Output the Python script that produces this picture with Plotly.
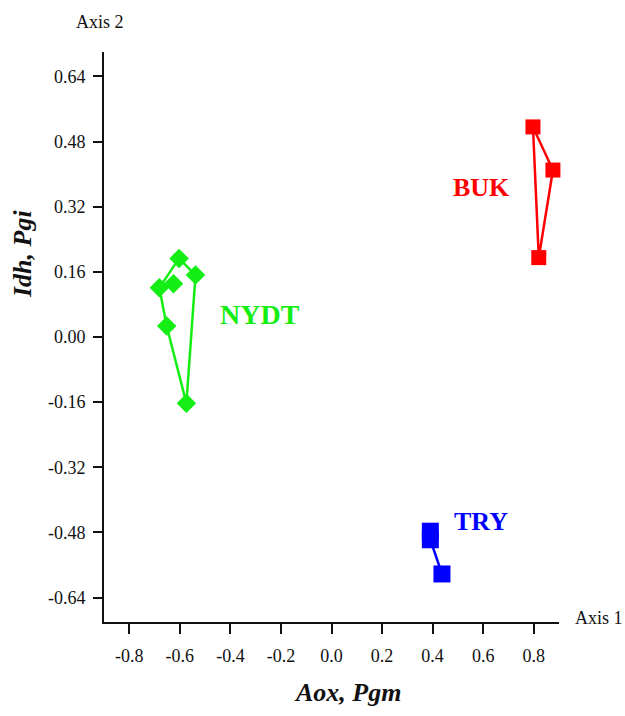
import plotly.graph_objects as go

# ---- data ----
nydt_x = [-0.603, -0.538, -0.574, -0.652, -0.681, -0.625]
nydt_y = [0.193, 0.152, -0.163, 0.027, 0.121, 0.131]
nydt_hull = [0, 1, 2, 3, 4, 0]

buk_x = [0.797, 0.876, 0.820]
buk_y = [0.516, 0.410, 0.195]
buk_hull = [0, 1, 2, 0]

try_x = [0.391, 0.391, 0.437]
try_y = [-0.477, -0.498, -0.582]
try_path = [0, 1, 2]

x_ticks = [-0.8, -0.6, -0.4, -0.2, 0.0, 0.2, 0.4, 0.6, 0.8]
x_tick_text = ["-0.8", "-0.6", "-0.4", "-0.2", "0.0", "0.2", "0.4", "0.6", "0.8"]
y_ticks = [-0.64, -0.48, -0.32, -0.16, 0.0, 0.16, 0.32, 0.48, 0.64]
y_tick_text = ["-0.64", "-0.48", "-0.32", "-0.16", "0.00", "0.16", "0.32", "0.48", "0.64"]

group_names = ["NYDT", "BUK", "TRY"]
group_label_pos = [(-0.450, 0.055, "left"), (0.713, 0.366, "right"), (0.475, -0.452, "left")]
group_label_size = [28, 26, 26]

GREEN = "#14ee14"
RED = "#ff0000"
BLUE = "#0000ff"
SERIF = "Liberation Serif, Times New Roman, serif"

fig = go.Figure()

def add_group(xs, ys, path, color, symbol, size):
    fig.add_trace(go.Scatter(
        x=[xs[i] for i in path], y=[ys[i] for i in path],
        mode="lines", line=dict(color=color, width=2.5),
        hoverinfo="skip", showlegend=False, cliponaxis=False))
    fig.add_trace(go.Scatter(
        x=xs, y=ys, mode="markers",
        marker=dict(color=color, symbol=symbol, size=size, line=dict(width=0)),
        showlegend=False, cliponaxis=False))

add_group(nydt_x, nydt_y, nydt_hull, GREEN, "diamond", 15)
add_group(buk_x, buk_y, buk_hull, RED, "square", 15)
add_group(try_x, try_y, try_path, BLUE, "square", 17)

colors = [GREEN, RED, BLUE]
for name, (lx, ly, anchor), c, fs in zip(group_names, group_label_pos, colors, group_label_size):
    fig.add_annotation(x=lx, y=ly, text="<b>%s</b>" % name, showarrow=False,
                       xanchor=anchor, yanchor="middle",
                       font=dict(family=SERIF, size=fs, color=c))

W, H = 625, 716
L, R, T, B = 104, 66, 52, 94

def px_to_paper(px, py):
    return (px - L) / (W - L - R), 1 - (py - T) / (H - T - B)

ax2 = px_to_paper(99.5, 22)
ax1 = px_to_paper(599, 618)
xt = px_to_paper(347, 692)
yt = px_to_paper(22, 254)

fig.add_annotation(x=ax2[0], y=ax2[1], xref="paper", yref="paper", text="Axis 2",
                   showarrow=False, xanchor="center", yanchor="middle",
                   font=dict(family=SERIF, size=18, color="#111"))
fig.add_annotation(x=ax1[0], y=ax1[1], xref="paper", yref="paper", text="Axis 1",
                   showarrow=False, xanchor="center", yanchor="middle",
                   font=dict(family=SERIF, size=18, color="#111"))
fig.add_annotation(x=xt[0], y=xt[1], xref="paper", yref="paper", text="<b><i>Aox, Pgm</i></b>",
                   showarrow=False, xanchor="center", yanchor="middle",
                   font=dict(family=SERIF, size=26, color="#111"))
fig.add_annotation(x=yt[0], y=yt[1], xref="paper", yref="paper", text="<b><i>Idh, Pgi</i></b>",
                   showarrow=False, xanchor="center", yanchor="middle", textangle=-90,
                   font=dict(family=SERIF, size=26, color="#111"))

fig.update_layout(
    width=W, height=H,
    margin=dict(l=L, r=R, t=T, b=B, pad=0),
    paper_bgcolor="white", plot_bgcolor="white",
    font=dict(family=SERIF, size=18, color="#111"),
    xaxis=dict(range=[-0.9, 0.9], tickvals=x_ticks, ticktext=x_tick_text,
               showgrid=False, zeroline=False, showline=True, linecolor="#111", linewidth=2,
               ticks="outside", ticklen=10, tickwidth=2, tickcolor="#111",
               ticklabelstandoff=6),
    yaxis=dict(range=[-0.7, 0.7], tickvals=y_ticks, ticktext=y_tick_text,
               showgrid=False, zeroline=False, showline=True, linecolor="#111", linewidth=2,
               ticks="outside", ticklen=9, tickwidth=2, tickcolor="#111",
               ticklabelstandoff=4),
)

fig.write_html("out.html")
